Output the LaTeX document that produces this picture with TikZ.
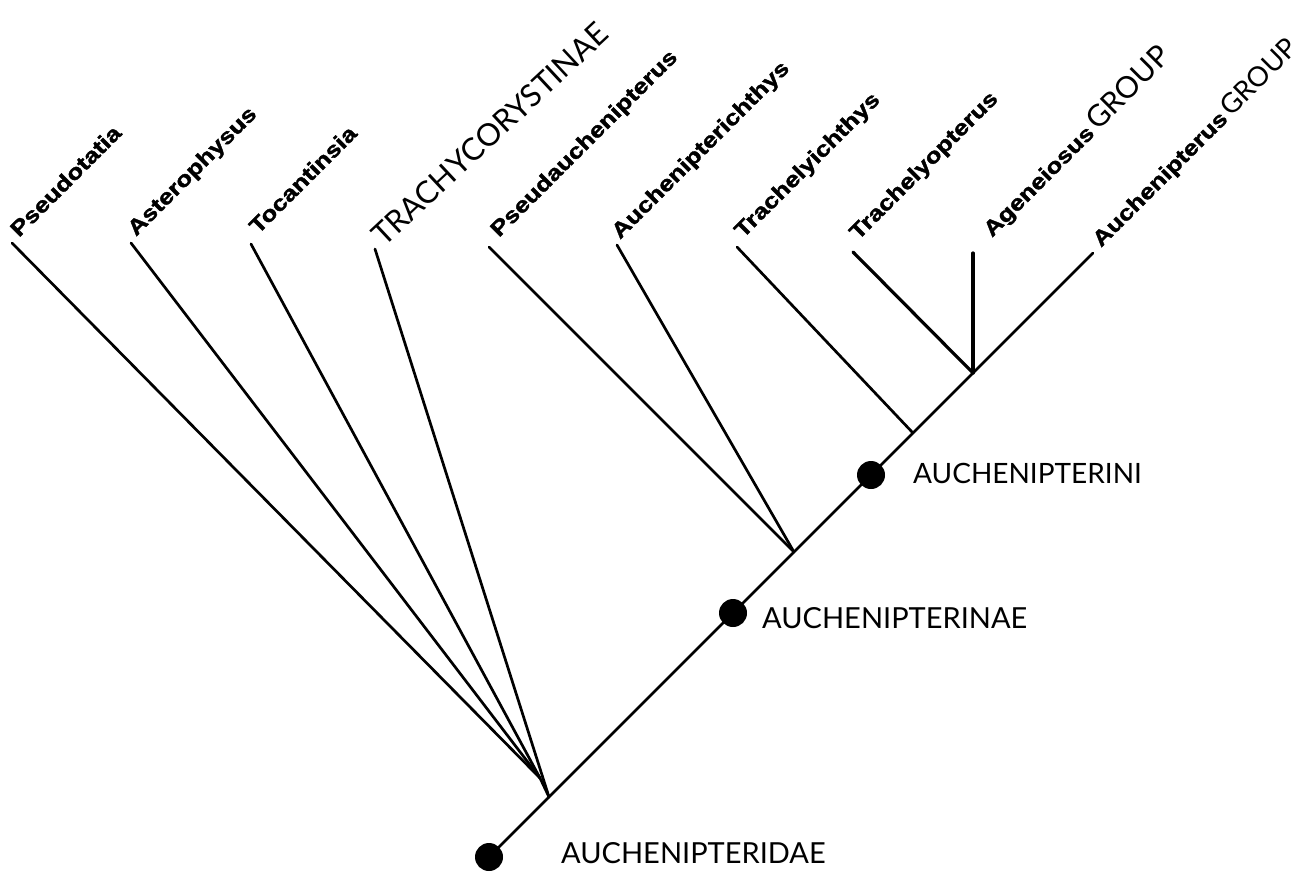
\documentclass[tikz,border=0pt]{standalone}
\usepackage{fontspec}
\setmainfont{Liberation Sans}[BoldFeatures={FakeBold=1.5}]
\newfontfamily\capsf{Lato}
\newcommand\genw[1]{\scalebox{1.2}[1]{#1}}
\begin{document}
\begin{tikzpicture}[x=1pt,y=-1pt,
  br/.style={line width=2.7pt, line cap=round},
  brk/.style={line width=3.2pt, line cap=round},
  dot/.style={circle, fill=black, inner sep=0pt, minimum size=28pt},
  gen/.style={rotate=45, anchor=base west, inner sep=0pt, font=\bfseries\fontsize{21.5}{21.5}\selectfont},
  capl/.style={anchor=base west, inner sep=0pt, font=\capsf\fontsize{29}{29}\selectfont}]
\useasboundingbox (0,0) rectangle (1302,876);
% tips
\coordinate (t1) at (12,243);
\coordinate (t2) at (131,243);
\coordinate (t3) at (251,244);
\coordinate (t4) at (375,249);
\coordinate (t5) at (489,247);
\coordinate (t6) at (617,245);
\coordinate (t7) at (737,247);
\coordinate (t8) at (853,252);
\coordinate (t9) at (973,253);
\coordinate (top) at (1093,253);
% junctions
\coordinate (c1) at (540,778);
\coordinate (j1) at (549,797);
\coordinate (j2) at (794,552);
\coordinate (j3) at (913,433);
\coordinate (j4) at (973,373);
\node[dot] (root) at (489,857) {};
\node[dot] (d1) at (733,613) {};
\node[dot] (d2) at (871,475) {};
% spine
\draw[br] (root.center) -- (top);
% branches
\draw[br] (t1) -- (c1);
\draw[br] (t2) -- (c1);
\draw[br] (t3) -- (c1);
\draw[br] (c1) -- (j1);
\draw[br] (t4) -- (j1);
\draw[br] (t5) -- (j2);
\draw[br] (t6) -- (j2);
\draw[br] (t7) -- (j3);
\draw[brk] (t8) -- (j4);
\draw[brk] (t9) -- (j4);
% taxon labels
\node[gen] (l1) at (19,238) {\genw{Pseudotatia}};
\node[gen] (l2) at (136,237) {\genw{Asterophysus}};
\node[gen] (l3) at (258,235) {\genw{Tocantinsia}};
\node[gen, rotate=-2, font=\capsf\fontsize{31}{31}\selectfont] (l4) at (384,248) {TRACHYCORYSTINAE};
\node[gen] (l5) at (499,238) {\genw{Pseudauchenipterus}};
\node[gen] (l6) at (620,240) {\genw{Auchenipterichthys}};
\node[gen] (l7) at (743,239) {\genw{Trachelyichthys}};
\node[gen] (l8) at (858,241) {\genw{Trachelyopterus}};
\node[gen] (l9) at (992,238) {\genw{Ageneiosus}\,{\mdseries\capsf\fontsize{30}{30}\selectfont GROUP}};
\node[gen] (l10) at (1101,248) {\genw{Auchenipterus}\,{\mdseries\capsf\fontsize{27.5}{27.5}\selectfont GROUP}};
% clade labels
\node[capl] (n1) at (561,863) {AUCHENIPTERIDAE};
\node[capl] (n2) at (762,628) {AUCHENIPTERINAE};
\node[capl, font=\capsf\fontsize{28}{28}\selectfont] (n3) at (913,483) {AUCHENIPTERINI};
\end{tikzpicture}
\end{document}
